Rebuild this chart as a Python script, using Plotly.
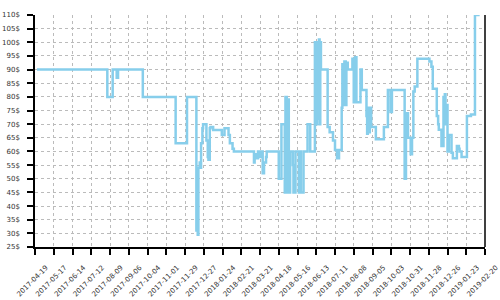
import plotly.graph_objects as go

dates = [
    "2017-04-22", "2017-08-05", "2017-08-13", "2017-08-19", "2017-08-21", "2017-09-27",
    "2017-11-15", "2017-12-02", "2017-12-16", "2017-12-18", "2017-12-19", "2017-12-21",
    "2017-12-22", "2017-12-23", "2017-12-25", "2017-12-26", "2017-12-31", "2018-01-02",
    "2018-01-03", "2018-01-05", "2018-01-06", "2018-01-10", "2018-01-23", "2018-01-27",
    "2018-02-02", "2018-02-04", "2018-02-08", "2018-02-10", "2018-03-12", "2018-03-13",
    "2018-03-15", "2018-03-18", "2018-03-21", "2018-03-22", "2018-03-25", "2018-03-27",
    "2018-03-30", "2018-03-31", "2018-04-04", "2018-04-18", "2018-04-22", "2018-04-27",
    "2018-04-28", "2018-04-30", "2018-05-01", "2018-05-03", "2018-05-05", "2018-05-09",
    "2018-05-10", "2018-05-13", "2018-05-18", "2018-05-19", "2018-05-21", "2018-05-25",
    "2018-05-31", "2018-06-04", "2018-06-11", "2018-06-12", "2018-06-14", "2018-06-15",
    "2018-06-17", "2018-06-18", "2018-06-19", "2018-06-20", "2018-06-30", "2018-07-03",
    "2018-07-08", "2018-07-11", "2018-07-14", "2018-07-17", "2018-07-21", "2018-07-22",
    "2018-07-24", "2018-07-25", "2018-07-27", "2018-07-28", "2018-07-30", "2018-08-06",
    "2018-08-08", "2018-08-10", "2018-08-12", "2018-08-18", "2018-08-20", "2018-08-27",
    "2018-08-28", "2018-08-29", "2018-08-30", "2018-09-01", "2018-09-03", "2018-09-10",
    "2018-09-22", "2018-09-28", "2018-10-02", "2018-10-04", "2018-10-23", "2018-10-25",
    "2018-10-26", "2018-10-28", "2018-11-01", "2018-11-03", "2018-11-05", "2018-11-07",
    "2018-11-11", "2018-11-29", "2018-12-02", "2018-12-04", "2018-12-10", "2018-12-12",
    "2018-12-13", "2018-12-17", "2018-12-20", "2018-12-22", "2018-12-23", "2018-12-25",
    "2018-12-26", "2018-12-28", "2018-12-30", "2019-01-01", "2019-01-03", "2019-01-09",
    "2019-01-12", "2019-01-13", "2019-01-16", "2019-01-24", "2019-01-30", "2019-02-05",
    "2019-02-12",
]
prices = [
    90, 80, 90, 87, 90, 80,
    63, 80, 31, 29.5, 54, 56,
    54, 63, 68.5, 70, 64, 58,
    57, 68.5, 69, 67.9, 66, 68.5,
    66, 63, 61, 60, 56, 59,
    57.5, 60, 58, 60, 52, 56,
    58, 60, 60, 50, 70, 45,
    80, 45, 79, 45, 60, 55,
    45, 60, 45, 60, 45, 60,
    70, 60, 100, 70, 100, 72,
    101, 70, 100, 90, 69, 67,
    64, 60.5, 57.5, 60.5, 76, 92,
    77, 93, 77, 92.5, 90, 94,
    78, 94.5, 78, 90, 82.5, 73,
    66.5, 76, 67, 76, 69, 64.5,
    69, 82.5, 74.5, 82.5, 50, 66,
    74, 65, 59, 65, 82, 83.8,
    94, 93, 91, 83, 73, 70,
    68, 62, 80, 81, 70, 77,
    60, 66, 66, 59.5, 57.5, 62,
    61, 60, 58, 73, 73.5, 110,
    110,
]

tick_dates = [
    "2017-04-19", "2017-05-17", "2017-06-14", "2017-07-12", "2017-08-09", "2017-09-06",
    "2017-10-04", "2017-11-01", "2017-11-29", "2017-12-27", "2018-01-24", "2018-02-21",
    "2018-03-21", "2018-04-18", "2018-05-16", "2018-06-13", "2018-07-11", "2018-08-08",
    "2018-09-05", "2018-10-03", "2018-10-31", "2018-11-28", "2018-12-26", "2019-01-23",
    "2019-02-20",
]
y_ticks = list(range(25, 111, 5))
y_labels = [f"{v}$" for v in y_ticks]

fig = go.Figure()
fig.add_trace(go.Scatter(
    x=dates, y=prices, mode="lines",
    line=dict(color="#87CEEB", width=2.5, shape="hv"),
    hoverinfo="skip",
))

font = dict(family="DejaVu Sans", size=7, color="#333333")
fig.update_layout(
    width=500, height=300,
    margin=dict(l=35, r=15, t=15, b=53),
    paper_bgcolor="white", plot_bgcolor="white",
    showlegend=False,
    xaxis=dict(
        range=["2017-04-19", "2019-02-20"],
        tickmode="array", tickvals=tick_dates, ticktext=tick_dates,
        tickangle=-45, tickfont=font, automargin=False,
        ticklabeloverflow="allow", ticklabelshift=11, ticklabelstandoff=6,
        showline=True, linecolor="black", linewidth=1.5,
        ticks="outside", ticklen=6, tickcolor="black", tickwidth=1.5,
        showgrid=True, gridcolor="#bbbbbb", gridwidth=1, griddash="3px,3px",
        zeroline=False,
    ),
    yaxis=dict(
        range=[25, 110],
        tickmode="array", tickvals=y_ticks, ticktext=y_labels,
        tickfont=font, automargin=False, ticklabelstandoff=6,
        showline=True, linecolor="black", linewidth=1.5,
        ticks="outside", ticklen=6, tickcolor="black", tickwidth=1.5,
        showgrid=True, gridcolor="#bbbbbb", gridwidth=1, griddash="3px,3px",
        zeroline=False,
    ),
)
fig.add_shape(type="line", xref="paper", yref="paper", x0=1, x1=1, y0=0, y1=1,
              line=dict(color="black", width=1.5))

fig.write_html("out.html")
